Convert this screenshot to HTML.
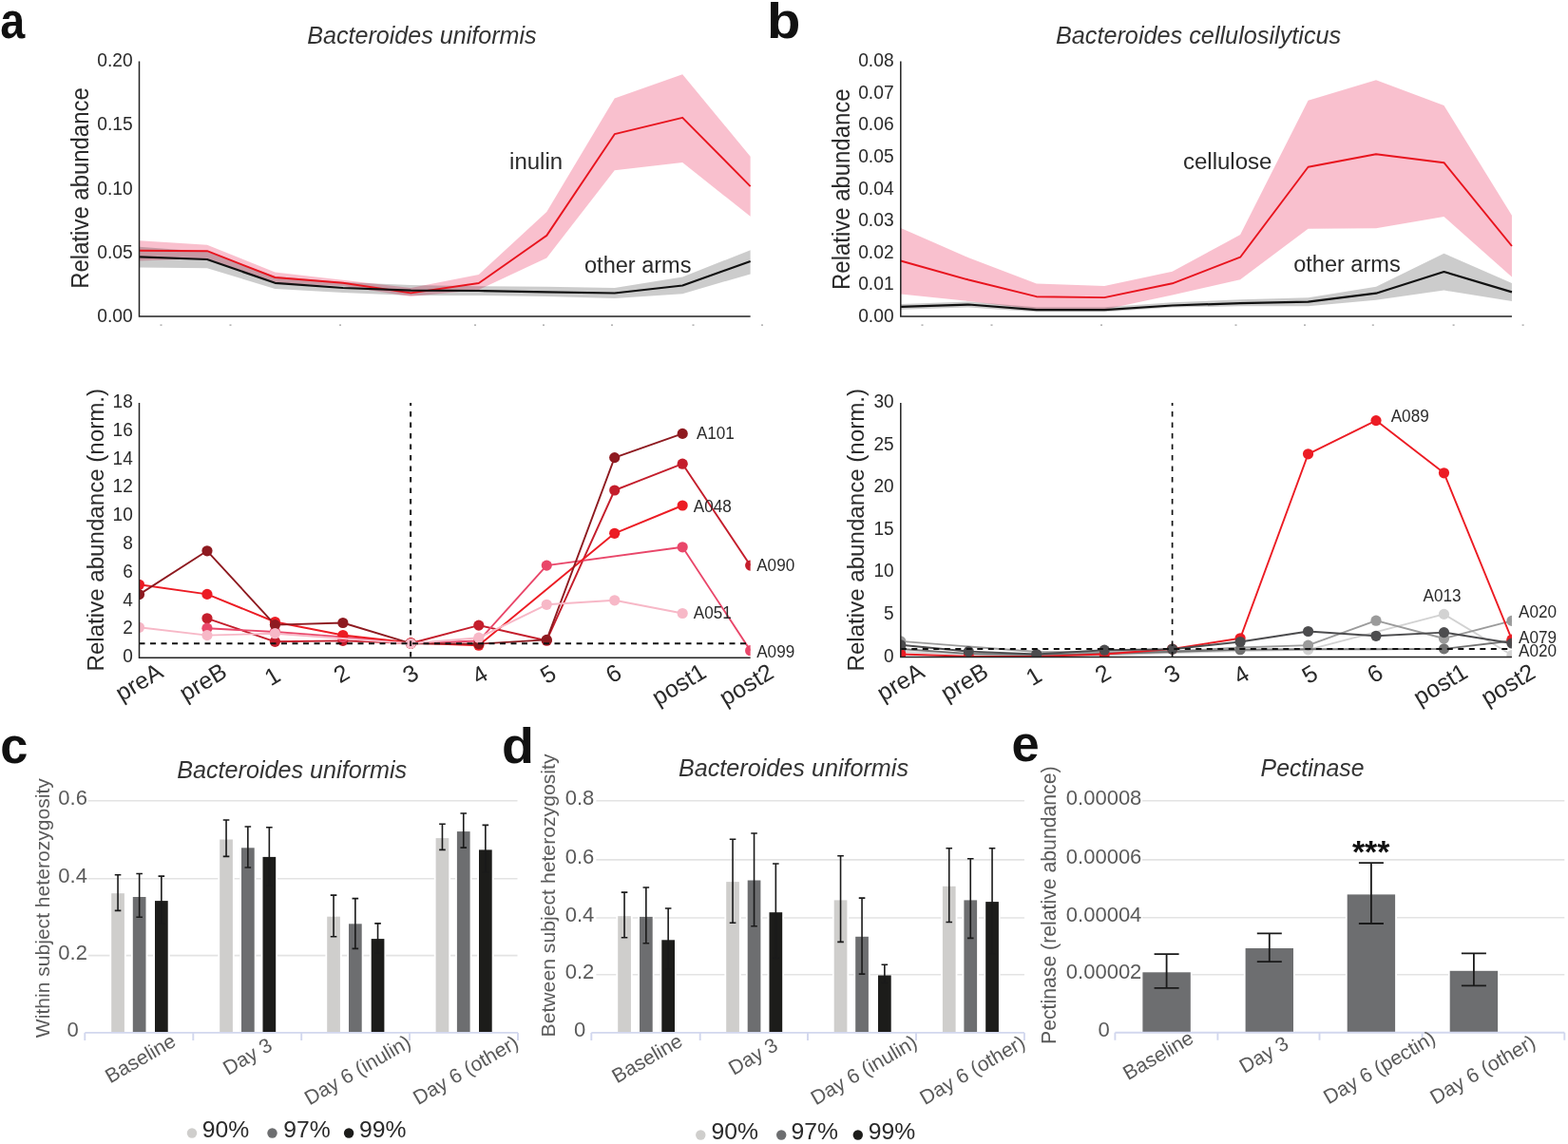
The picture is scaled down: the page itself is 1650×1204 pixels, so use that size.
<!DOCTYPE html>
<html><head><meta charset="utf-8"><title>Figure</title>
<style>
html,body{margin:0;padding:0;background:#fff;}
svg{display:block;}
text{font-family:'Liberation Sans', Arial, sans-serif;}
</style></head>
<body>
<svg width="1650" height="1204" viewBox="0 0 1650 1204" fill="#2a2a2a">
<rect width="1650" height="1204" fill="#fff"/>
<text x="0.3" y="40" font-size="51" font-weight="bold" fill="#111" textLength="26" lengthAdjust="spacingAndGlyphs">a</text>
<text x="806.9" y="40" font-size="51" font-weight="bold" fill="#111" textLength="35.4" lengthAdjust="spacingAndGlyphs">b</text>
<text x="0.2" y="803.3" font-size="51" font-weight="bold" fill="#111" textLength="29.15" lengthAdjust="spacingAndGlyphs">c</text>
<text x="528" y="803.2" font-size="51" font-weight="bold" fill="#111" textLength="34" lengthAdjust="spacingAndGlyphs">d</text>
<text x="1064.6" y="800.6" font-size="51" font-weight="bold" fill="#111" textLength="29.15" lengthAdjust="spacingAndGlyphs">e</text>
<text x="323.2" y="46.4" font-size="25" font-style="italic" fill="#333" textLength="241.5" lengthAdjust="spacingAndGlyphs">Bacteroides uniformis</text>
<text x="1110.9" y="46.4" font-size="25" font-style="italic" fill="#333" textLength="300.3" lengthAdjust="spacingAndGlyphs">Bacteroides cellulosilyticus</text>
<polygon points="146.5,253.2 217.96,257.8 289.42,286.5 360.88,294.7 432.34,303 503.8,289 575.26,223 646.72,103.6 718.18,78.2 789.64,164.7 789.64,227.8 718.18,171 646.72,179.3 575.26,271.4 503.8,305 432.34,312 360.88,301 289.42,298 217.96,272 146.5,274.6" fill="#f06a8a" fill-opacity="0.42"/>
<polygon points="146.5,259.8 217.96,265 289.42,291 360.88,297 432.34,300 503.8,301.2 575.26,301.7 646.72,303 718.18,291.5 789.64,263.2 789.64,288.4 718.18,309.2 646.72,314 575.26,312 503.8,311 432.34,311 360.88,308 289.42,304 217.96,282.2 146.5,281.5" fill="#000" fill-opacity="0.2"/>
<polyline points="146.5,263.7 217.96,264.2 289.42,292 360.88,297.8 432.34,308.4 503.8,298 575.26,247.9 646.72,141.2 718.18,123.8 789.64,196.2" fill="none" stroke="#e8141e" stroke-width="1.9" stroke-linejoin="round"/>
<polyline points="146.5,270.4 217.96,273 289.42,297.8 360.88,303 432.34,305.6 503.8,306 575.26,307.3 646.72,308.5 718.18,300.5 789.64,275" fill="none" stroke="#111" stroke-width="2.2" stroke-linejoin="round"/>
<path d="M146.5 64.4V333H789.64" fill="none" stroke="#222" stroke-width="1.5"/>
<text x="139.7" y="70.2" font-size="20.5" text-anchor="end" textLength="37.4" lengthAdjust="spacingAndGlyphs">0.20</text>
<text x="139.7" y="137.35" font-size="20.5" text-anchor="end" textLength="37.4" lengthAdjust="spacingAndGlyphs">0.15</text>
<text x="139.7" y="204.5" font-size="20.5" text-anchor="end" textLength="37.4" lengthAdjust="spacingAndGlyphs">0.10</text>
<text x="139.7" y="271.65" font-size="20.5" text-anchor="end" textLength="37.4" lengthAdjust="spacingAndGlyphs">0.05</text>
<text x="139.7" y="338.8" font-size="20.5" text-anchor="end" textLength="37.4" lengthAdjust="spacingAndGlyphs">0.00</text>
<polygon points="947.8,240 1019.26,271.2 1090.72,298.5 1162.18,301 1233.64,285.8 1305.1,247.1 1376.56,105.8 1448.02,84.2 1519.48,110.9 1590.94,226.7 1590.94,291.6 1519.48,228 1448.02,240.2 1376.56,240.7 1305.1,294.2 1233.64,310.5 1162.18,325.7 1090.72,325.7 1019.26,317 947.8,309.6" fill="#f06a8a" fill-opacity="0.42"/>
<polygon points="947.8,319.9 1019.26,317.5 1090.72,323.3 1162.18,323.3 1233.64,318.2 1305.1,315.3 1376.56,313.2 1448.02,301.8 1519.48,266.7 1590.94,298 1590.94,317 1519.48,305.6 1448.02,315.8 1376.56,322.2 1305.1,322.2 1233.64,323.6 1162.18,328.3 1090.72,328.3 1019.26,323.5 947.8,325.7" fill="#000" fill-opacity="0.2"/>
<polyline points="947.8,274.5 1019.26,294.5 1090.72,312.2 1162.18,313.1 1233.64,298.3 1305.1,270.7 1376.56,175.8 1448.02,162.3 1519.48,171.2 1590.94,259" fill="none" stroke="#e8141e" stroke-width="1.9" stroke-linejoin="round"/>
<polyline points="947.8,322.8 1019.26,320.5 1090.72,326.1 1162.18,326.1 1233.64,321.5 1305.1,319.1 1376.56,317.6 1448.02,308.7 1519.48,286 1590.94,307.4" fill="none" stroke="#111" stroke-width="2.2" stroke-linejoin="round"/>
<path d="M947.8 64.4V333H1590.94" fill="none" stroke="#222" stroke-width="1.5"/>
<text x="940.6" y="70.2" font-size="20.5" text-anchor="end" textLength="37.4" lengthAdjust="spacingAndGlyphs">0.08</text>
<text x="940.6" y="103.78" font-size="20.5" text-anchor="end" textLength="37.4" lengthAdjust="spacingAndGlyphs">0.07</text>
<text x="940.6" y="137.35" font-size="20.5" text-anchor="end" textLength="37.4" lengthAdjust="spacingAndGlyphs">0.06</text>
<text x="940.6" y="170.93" font-size="20.5" text-anchor="end" textLength="37.4" lengthAdjust="spacingAndGlyphs">0.05</text>
<text x="940.6" y="204.5" font-size="20.5" text-anchor="end" textLength="37.4" lengthAdjust="spacingAndGlyphs">0.04</text>
<text x="940.6" y="238.08" font-size="20.5" text-anchor="end" textLength="37.4" lengthAdjust="spacingAndGlyphs">0.03</text>
<text x="940.6" y="271.65" font-size="20.5" text-anchor="end" textLength="37.4" lengthAdjust="spacingAndGlyphs">0.02</text>
<text x="940.6" y="305.23" font-size="20.5" text-anchor="end" textLength="37.4" lengthAdjust="spacingAndGlyphs">0.01</text>
<text x="940.6" y="338.8" font-size="20.5" text-anchor="end" textLength="37.4" lengthAdjust="spacingAndGlyphs">0.00</text>
<text transform="translate(92.6 198) rotate(-90)" x="0" y="0" font-size="25.5" text-anchor="middle" fill="#2a2a2a" textLength="211.5" lengthAdjust="spacingAndGlyphs">Relative abundance</text>
<text transform="translate(894.2 199.2) rotate(-90)" x="0" y="0" font-size="25.5" text-anchor="middle" fill="#2a2a2a" textLength="211.5" lengthAdjust="spacingAndGlyphs">Relative abundance</text>
<text transform="translate(108.8 557.75) rotate(-90)" x="0" y="0" font-size="24.2" text-anchor="middle" fill="#2a2a2a" textLength="297.5" lengthAdjust="spacingAndGlyphs">Relative abundance (norm.)</text>
<text transform="translate(909 557.75) rotate(-90)" x="0" y="0" font-size="24.2" text-anchor="middle" fill="#2a2a2a" textLength="297.5" lengthAdjust="spacingAndGlyphs">Relative abundance (norm.)</text>
<text x="536.1" y="178.3" font-size="23.5" textLength="56" lengthAdjust="spacingAndGlyphs">inulin</text>
<text x="615" y="286.7" font-size="23.5" textLength="112.5" lengthAdjust="spacingAndGlyphs">other arms</text>
<text x="1244.9" y="177.8" font-size="23.5" textLength="93.6" lengthAdjust="spacingAndGlyphs">cellulose</text>
<text x="1361.2" y="286" font-size="23.5" textLength="112.5" lengthAdjust="spacingAndGlyphs">other arms</text>
<rect x="168.5" y="341.5" width="2" height="1.2" fill="#999"/>
<rect x="241.5" y="341.5" width="2" height="1.2" fill="#999"/>
<rect x="357" y="341.5" width="2" height="1.2" fill="#999"/>
<rect x="499" y="341.5" width="2" height="1.2" fill="#999"/>
<rect x="571" y="341.5" width="2" height="1.2" fill="#999"/>
<rect x="643" y="341.5" width="2" height="1.2" fill="#999"/>
<rect x="728.5" y="341.5" width="2" height="1.2" fill="#999"/>
<rect x="801" y="341.5" width="2" height="1.2" fill="#999"/>
<rect x="969.5" y="341.5" width="2" height="1.2" fill="#999"/>
<rect x="1042.5" y="341.5" width="2" height="1.2" fill="#999"/>
<rect x="1158" y="341.5" width="2" height="1.2" fill="#999"/>
<rect x="1299.5" y="341.5" width="2" height="1.2" fill="#999"/>
<rect x="1372" y="341.5" width="2" height="1.2" fill="#999"/>
<rect x="1443.8" y="341.5" width="2" height="1.2" fill="#999"/>
<rect x="1528.6" y="341.5" width="2" height="1.2" fill="#999"/>
<rect x="1601.6" y="341.5" width="2" height="1.2" fill="#999"/>
<defs><clipPath id="ca"><rect x="146.5" y="400" width="643.14" height="292.2"/></clipPath><clipPath id="cb"><rect x="947.8" y="400" width="643.14" height="291.6"/></clipPath></defs>
<g clip-path="url(#ca)"><polyline points="217.96,650.8 289.42,675.3 360.88,674.4 432.34,677 503.8,658.1 575.26,674.2 646.72,516 718.18,488.2 789.64,595.1" fill="none" stroke="#c41e2c" stroke-width="1.9" stroke-linejoin="round"/>
<circle cx="217.96" cy="650.8" r="5.6" fill="#c41e2c"/>
<circle cx="289.42" cy="675.3" r="5.6" fill="#c41e2c"/>
<circle cx="360.88" cy="674.4" r="5.6" fill="#c41e2c"/>
<circle cx="432.34" cy="677" r="5.6" fill="#c41e2c"/>
<circle cx="503.8" cy="658.1" r="5.6" fill="#c41e2c"/>
<circle cx="575.26" cy="674.2" r="5.6" fill="#c41e2c"/>
<circle cx="646.72" cy="516" r="5.6" fill="#c41e2c"/>
<circle cx="718.18" cy="488.2" r="5.6" fill="#c41e2c"/>
<circle cx="789.64" cy="595.1" r="5.6" fill="#c41e2c"/>
</g>
<g clip-path="url(#ca)"><polyline points="217.96,661.2 289.42,665 360.88,670.5 432.34,677 503.8,674.5 575.26,595.1 718.18,575.8 789.64,684.7" fill="none" stroke="#e9476a" stroke-width="1.9" stroke-linejoin="round"/>
<circle cx="217.96" cy="661.2" r="5.6" fill="#e9476a"/>
<circle cx="289.42" cy="665" r="5.6" fill="#e9476a"/>
<circle cx="360.88" cy="670.5" r="5.6" fill="#e9476a"/>
<circle cx="432.34" cy="677" r="5.6" fill="#e9476a"/>
<circle cx="503.8" cy="674.5" r="5.6" fill="#e9476a"/>
<circle cx="575.26" cy="595.1" r="5.6" fill="#e9476a"/>
<circle cx="718.18" cy="575.8" r="5.6" fill="#e9476a"/>
<circle cx="789.64" cy="684.7" r="5.6" fill="#e9476a"/>
</g>
<g clip-path="url(#ca)"><polyline points="146.5,615.3 217.96,625.4 289.42,654.5 360.88,668.5 432.34,676.5 503.8,679.2 646.72,561.3 718.18,532" fill="none" stroke="#ec1c24" stroke-width="1.9" stroke-linejoin="round"/>
<circle cx="146.5" cy="615.3" r="5.6" fill="#ec1c24"/>
<circle cx="217.96" cy="625.4" r="5.6" fill="#ec1c24"/>
<circle cx="289.42" cy="654.5" r="5.6" fill="#ec1c24"/>
<circle cx="360.88" cy="668.5" r="5.6" fill="#ec1c24"/>
<circle cx="432.34" cy="676.5" r="5.6" fill="#ec1c24"/>
<circle cx="503.8" cy="679.2" r="5.6" fill="#ec1c24"/>
<circle cx="646.72" cy="561.3" r="5.6" fill="#ec1c24"/>
<circle cx="718.18" cy="532" r="5.6" fill="#ec1c24"/>
</g>
<g clip-path="url(#ca)"><polyline points="146.5,625.6 217.96,579.8 289.42,657.6 360.88,655.5 432.34,677.2 503.8,677.6 575.26,673.4 646.72,481.6 718.18,456.4" fill="none" stroke="#8e1a20" stroke-width="1.9" stroke-linejoin="round"/>
<circle cx="146.5" cy="625.6" r="5.6" fill="#8e1a20"/>
<circle cx="217.96" cy="579.8" r="5.6" fill="#8e1a20"/>
<circle cx="289.42" cy="657.6" r="5.6" fill="#8e1a20"/>
<circle cx="360.88" cy="655.5" r="5.6" fill="#8e1a20"/>
<circle cx="432.34" cy="677.2" r="5.6" fill="#8e1a20"/>
<circle cx="503.8" cy="677.6" r="5.6" fill="#8e1a20"/>
<circle cx="575.26" cy="673.4" r="5.6" fill="#8e1a20"/>
<circle cx="646.72" cy="481.6" r="5.6" fill="#8e1a20"/>
<circle cx="718.18" cy="456.4" r="5.6" fill="#8e1a20"/>
</g>
<g clip-path="url(#ca)"><polyline points="146.5,660.3 217.96,668.6 289.42,666.7 360.88,672 432.34,677.3 503.8,671.2 575.26,636.3 646.72,631.8 718.18,645.5" fill="none" stroke="#f7b8c7" stroke-width="1.9" stroke-linejoin="round"/>
<circle cx="146.5" cy="660.3" r="5.6" fill="#f7b8c7"/>
<circle cx="217.96" cy="668.6" r="5.6" fill="#f7b8c7"/>
<circle cx="289.42" cy="666.7" r="5.6" fill="#f7b8c7"/>
<circle cx="432.34" cy="677.3" r="5.6" fill="#f7b8c7"/>
<circle cx="503.8" cy="671.2" r="5.6" fill="#f7b8c7"/>
<circle cx="575.26" cy="636.3" r="5.6" fill="#f7b8c7"/>
<circle cx="646.72" cy="631.8" r="5.6" fill="#f7b8c7"/>
<circle cx="718.18" cy="645.5" r="5.6" fill="#f7b8c7"/>
</g>
<line x1="146.5" y1="677.2" x2="787" y2="677.2" stroke="#111" stroke-width="2" stroke-dasharray="6,5.5"/>
<line x1="432.1" y1="424" x2="432.1" y2="692" stroke="#111" stroke-width="2" stroke-dasharray="5.6,5.9" stroke-dashoffset="2.6"/>
<path d="M146.5 424V692.2H789.64" fill="none" stroke="#222" stroke-width="1.5"/>
<text x="139.8" y="697.2" font-size="20.5" text-anchor="end" textLength="10.6" lengthAdjust="spacingAndGlyphs">0</text>
<text x="139.8" y="667.4" font-size="20.5" text-anchor="end" textLength="10.6" lengthAdjust="spacingAndGlyphs">2</text>
<text x="139.8" y="637.6" font-size="20.5" text-anchor="end" textLength="10.6" lengthAdjust="spacingAndGlyphs">4</text>
<text x="139.8" y="607.8" font-size="20.5" text-anchor="end" textLength="10.6" lengthAdjust="spacingAndGlyphs">6</text>
<text x="139.8" y="578" font-size="20.5" text-anchor="end" textLength="10.6" lengthAdjust="spacingAndGlyphs">8</text>
<text x="139.8" y="548.2" font-size="20.5" text-anchor="end" textLength="21.2" lengthAdjust="spacingAndGlyphs">10</text>
<text x="139.8" y="518.4" font-size="20.5" text-anchor="end" textLength="21.2" lengthAdjust="spacingAndGlyphs">12</text>
<text x="139.8" y="488.6" font-size="20.5" text-anchor="end" textLength="21.2" lengthAdjust="spacingAndGlyphs">14</text>
<text x="139.8" y="458.8" font-size="20.5" text-anchor="end" textLength="21.2" lengthAdjust="spacingAndGlyphs">16</text>
<text x="139.8" y="429" font-size="20.5" text-anchor="end" textLength="21.2" lengthAdjust="spacingAndGlyphs">18</text>
<text x="732.9" y="461.9" font-size="18" textLength="40" lengthAdjust="spacingAndGlyphs">A101</text>
<text x="729.8" y="539.3" font-size="18" textLength="40" lengthAdjust="spacingAndGlyphs">A048</text>
<text x="796.2" y="601.2" font-size="18" textLength="40" lengthAdjust="spacingAndGlyphs">A090</text>
<text x="729.8" y="651.3" font-size="18" textLength="40" lengthAdjust="spacingAndGlyphs">A051</text>
<text x="796.2" y="692" font-size="18" textLength="40" lengthAdjust="spacingAndGlyphs">A099</text>
<g clip-path="url(#cb)"><polyline points="947.8,686 1019.26,688.5 1090.72,690.2 1162.18,689.5 1233.64,687 1305.1,685 1376.56,683.9 1519.48,646.4 1590.94,689.5" fill="none" stroke="#d2d2d2" stroke-width="1.9" stroke-linejoin="round"/>
<circle cx="1376.56" cy="683.9" r="5.6" fill="#d2d2d2"/>
<circle cx="1519.48" cy="646.4" r="5.6" fill="#d2d2d2"/>
<circle cx="1590.94" cy="689.5" r="5.6" fill="#d2d2d2"/>
</g>
<g clip-path="url(#cb)"><polyline points="947.8,674.9 1019.26,680.5 1090.72,686 1162.18,686.5 1233.64,685.5 1305.1,681.5 1376.56,679.1 1448.02,653.2 1519.48,672 1590.94,653.4" fill="none" stroke="#9b9b9b" stroke-width="1.9" stroke-linejoin="round"/>
<circle cx="947.8" cy="674.9" r="5.6" fill="#9b9b9b"/>
<circle cx="1376.56" cy="679.1" r="5.6" fill="#9b9b9b"/>
<circle cx="1448.02" cy="653.2" r="5.6" fill="#9b9b9b"/>
<circle cx="1519.48" cy="672" r="5.6" fill="#9b9b9b"/>
<circle cx="1590.94" cy="653.4" r="5.6" fill="#9b9b9b"/>
</g>
<g clip-path="url(#cb)"><polyline points="947.8,683 1019.26,688 1090.72,689 1162.18,688 1233.64,686 1305.1,683.7 1376.56,683.3 1448.02,683.2 1519.48,682.9 1590.94,674.5" fill="none" stroke="#727272" stroke-width="1.9" stroke-linejoin="round"/>
<circle cx="947.8" cy="683" r="5.6" fill="#727272"/>
<circle cx="1305.1" cy="683.7" r="5.6" fill="#727272"/>
<circle cx="1519.48" cy="682.9" r="5.6" fill="#727272"/>
<circle cx="1590.94" cy="674.5" r="5.6" fill="#727272"/>
</g>
<g clip-path="url(#cb)"><polyline points="947.8,688.5 1019.26,690.8 1090.72,691 1162.18,688.5 1233.64,683 1305.1,671.8 1376.56,477.8 1448.02,442.6 1519.48,497.8 1590.94,673.2" fill="none" stroke="#ec1c24" stroke-width="1.9" stroke-linejoin="round"/>
<circle cx="947.8" cy="688.5" r="5.6" fill="#ec1c24"/>
<circle cx="1019.26" cy="690.8" r="5.6" fill="#ec1c24"/>
<circle cx="1090.72" cy="691" r="5.6" fill="#ec1c24"/>
<circle cx="1162.18" cy="688.5" r="5.6" fill="#ec1c24"/>
<circle cx="1233.64" cy="683" r="5.6" fill="#ec1c24"/>
<circle cx="1305.1" cy="671.8" r="5.6" fill="#ec1c24"/>
<circle cx="1376.56" cy="477.8" r="5.6" fill="#ec1c24"/>
<circle cx="1448.02" cy="442.6" r="5.6" fill="#ec1c24"/>
<circle cx="1519.48" cy="497.8" r="5.6" fill="#ec1c24"/>
<circle cx="1590.94" cy="673.2" r="5.6" fill="#ec1c24"/>
</g>
<g clip-path="url(#cb)"><polyline points="947.8,678.8 1019.26,685.6 1090.72,688.5 1162.18,684.2 1233.64,683.2 1305.1,675.5 1376.56,664.5 1448.02,669.3 1519.48,665.6 1590.94,677" fill="none" stroke="#4c4c4e" stroke-width="1.9" stroke-linejoin="round"/>
<circle cx="947.8" cy="678.8" r="5.6" fill="#4c4c4e"/>
<circle cx="1019.26" cy="685.6" r="5.6" fill="#4c4c4e"/>
<circle cx="1090.72" cy="688.5" r="5.6" fill="#4c4c4e"/>
<circle cx="1162.18" cy="684.2" r="5.6" fill="#4c4c4e"/>
<circle cx="1233.64" cy="683.2" r="5.6" fill="#4c4c4e"/>
<circle cx="1305.1" cy="675.5" r="5.6" fill="#4c4c4e"/>
<circle cx="1376.56" cy="664.5" r="5.6" fill="#4c4c4e"/>
<circle cx="1448.02" cy="669.3" r="5.6" fill="#4c4c4e"/>
<circle cx="1519.48" cy="665.6" r="5.6" fill="#4c4c4e"/>
<circle cx="1590.94" cy="677" r="5.6" fill="#4c4c4e"/>
</g>
<line x1="947.8" y1="683" x2="1588" y2="683" stroke="#111" stroke-width="2" stroke-dasharray="6,5.5"/>
<line x1="1233.6" y1="424" x2="1233.6" y2="691.5" stroke="#111" stroke-width="1.7" stroke-dasharray="5.6,5.9" stroke-dashoffset="2.6"/>
<path d="M947.8 424V691.6H1590.94" fill="none" stroke="#222" stroke-width="1.5"/>
<text x="940.6" y="696.6" font-size="20.5" text-anchor="end" textLength="10.6" lengthAdjust="spacingAndGlyphs">0</text>
<text x="940.6" y="652" font-size="20.5" text-anchor="end" textLength="10.6" lengthAdjust="spacingAndGlyphs">5</text>
<text x="940.6" y="607.4" font-size="20.5" text-anchor="end" textLength="21.2" lengthAdjust="spacingAndGlyphs">10</text>
<text x="940.6" y="562.8" font-size="20.5" text-anchor="end" textLength="21.2" lengthAdjust="spacingAndGlyphs">15</text>
<text x="940.6" y="518.2" font-size="20.5" text-anchor="end" textLength="21.2" lengthAdjust="spacingAndGlyphs">20</text>
<text x="940.6" y="473.6" font-size="20.5" text-anchor="end" textLength="21.2" lengthAdjust="spacingAndGlyphs">25</text>
<text x="940.6" y="429" font-size="20.5" text-anchor="end" textLength="21.2" lengthAdjust="spacingAndGlyphs">30</text>
<text x="1463.7" y="443.9" font-size="18" textLength="40" lengthAdjust="spacingAndGlyphs">A089</text>
<text x="1497.6" y="632.8" font-size="18" textLength="40" lengthAdjust="spacingAndGlyphs">A013</text>
<text x="1598" y="650" font-size="18" textLength="40" lengthAdjust="spacingAndGlyphs">A020</text>
<text x="1598" y="676.9" font-size="18" textLength="40" lengthAdjust="spacingAndGlyphs">A079</text>
<text x="1598" y="691" font-size="18" textLength="40" lengthAdjust="spacingAndGlyphs">A020</text>
<line x1="92.8" y1="842.8" x2="544.5" y2="842.8" stroke="#e3e3e3" stroke-width="1.6"/>
<line x1="92.8" y1="924.7" x2="544.5" y2="924.7" stroke="#e3e3e3" stroke-width="1.6"/>
<line x1="92.8" y1="1005.6" x2="544.5" y2="1005.6" stroke="#e3e3e3" stroke-width="1.6"/>
<text x="76.6" y="846.8" font-size="22" text-anchor="middle" fill="#5a5a5a">0.6</text>
<text x="76.6" y="928.7" font-size="22" text-anchor="middle" fill="#5a5a5a">0.4</text>
<text x="76.6" y="1009.6" font-size="22" text-anchor="middle" fill="#5a5a5a">0.2</text>
<text x="76.6" y="1090.7" font-size="22" text-anchor="middle" fill="#5a5a5a">0</text>
<rect x="115.4" y="940.2" width="17.3" height="146.5" fill="#fff"/>
<rect x="138" y="944" width="17.3" height="142.7" fill="#fff"/>
<rect x="161.2" y="948.1" width="17.3" height="138.6" fill="#fff"/>
<rect x="229.4" y="883.5" width="17.3" height="203.2" fill="#fff"/>
<rect x="252.2" y="892.3" width="17.3" height="194.4" fill="#fff"/>
<rect x="274.7" y="901.9" width="17.3" height="184.8" fill="#fff"/>
<rect x="342.4" y="964.7" width="17.3" height="122" fill="#fff"/>
<rect x="365.2" y="972.3" width="17.3" height="114.4" fill="#fff"/>
<rect x="388.9" y="988.1" width="17.3" height="98.6" fill="#fff"/>
<rect x="456.8" y="882.1" width="17.3" height="204.6" fill="#fff"/>
<rect x="479.1" y="875.1" width="17.3" height="211.6" fill="#fff"/>
<rect x="502.2" y="894.4" width="17.3" height="192.3" fill="#fff"/>
<rect x="117.2" y="940.2" width="13.7" height="146.5" fill="#cfcecc"/>
<rect x="139.8" y="944" width="13.7" height="142.7" fill="#6d6e70"/>
<rect x="163" y="948.1" width="13.7" height="138.6" fill="#1c1c1a"/>
<rect x="231.2" y="883.5" width="13.7" height="203.2" fill="#cfcecc"/>
<rect x="254" y="892.3" width="13.7" height="194.4" fill="#6d6e70"/>
<rect x="276.5" y="901.9" width="13.7" height="184.8" fill="#1c1c1a"/>
<rect x="344.2" y="964.7" width="13.7" height="122" fill="#cfcecc"/>
<rect x="367" y="972.3" width="13.7" height="114.4" fill="#6d6e70"/>
<rect x="390.7" y="988.1" width="13.7" height="98.6" fill="#1c1c1a"/>
<rect x="458.6" y="882.1" width="13.7" height="204.6" fill="#cfcecc"/>
<rect x="480.9" y="875.1" width="13.7" height="211.6" fill="#6d6e70"/>
<rect x="504" y="894.4" width="13.7" height="192.3" fill="#1c1c1a"/>
<path d="M124.05 920.7V958.4M120.75 920.7H127.35M120.75 958.4H127.35" stroke="#1a1a1a" stroke-width="1.6" fill="none"/>
<path d="M146.65 919.5V965.3M143.35 919.5H149.95M143.35 965.3H149.95" stroke="#1a1a1a" stroke-width="1.6" fill="none"/>
<path d="M169.85 922.1V972.3M166.55 922.1H173.15M166.55 972.3H173.15" stroke="#1a1a1a" stroke-width="1.6" fill="none"/>
<path d="M238.05 863V901.4M234.75 863H241.35M234.75 901.4H241.35" stroke="#1a1a1a" stroke-width="1.6" fill="none"/>
<path d="M260.85 870V913M257.55 870H264.15M257.55 913H264.15" stroke="#1a1a1a" stroke-width="1.6" fill="none"/>
<path d="M283.35 870.7V932.3M280.05 870.7H286.65M280.05 932.3H286.65" stroke="#1a1a1a" stroke-width="1.6" fill="none"/>
<path d="M351.05 942.1V985.8M347.75 942.1H354.35M347.75 985.8H354.35" stroke="#1a1a1a" stroke-width="1.6" fill="none"/>
<path d="M373.85 945.6V998.4M370.55 945.6H377.15M370.55 998.4H377.15" stroke="#1a1a1a" stroke-width="1.6" fill="none"/>
<path d="M397.55 971.9V1003.3M394.25 971.9H400.85M394.25 1003.3H400.85" stroke="#1a1a1a" stroke-width="1.6" fill="none"/>
<path d="M465.45 867.2V894.4M462.15 867.2H468.75M462.15 894.4H468.75" stroke="#1a1a1a" stroke-width="1.6" fill="none"/>
<path d="M487.75 856V892.1M484.45 856H491.05M484.45 892.1H491.05" stroke="#1a1a1a" stroke-width="1.6" fill="none"/>
<path d="M510.85 868.4V918.1M507.55 868.4H514.15M507.55 918.1H514.15" stroke="#1a1a1a" stroke-width="1.6" fill="none"/>
<path d="M89.3 1086.9H545M89.3 1086.9V1094.9M203.3 1086.9V1094.9M317.2 1086.9V1094.9M431 1086.9V1094.9M545 1086.9V1094.9" stroke="#d2d7ee" stroke-width="1.9" fill="none"/>
<text x="186.2" y="818.8" font-size="25" font-style="italic" fill="#333" textLength="242" lengthAdjust="spacingAndGlyphs">Bacteroides uniformis</text>
<line x1="627.4" y1="842.8" x2="1077.9" y2="842.8" stroke="#e3e3e3" stroke-width="1.6"/>
<line x1="627.4" y1="904.9" x2="1077.9" y2="904.9" stroke="#e3e3e3" stroke-width="1.6"/>
<line x1="627.4" y1="966" x2="1077.9" y2="966" stroke="#e3e3e3" stroke-width="1.6"/>
<line x1="627.4" y1="1025.8" x2="1077.9" y2="1025.8" stroke="#e3e3e3" stroke-width="1.6"/>
<text x="610" y="846.8" font-size="22" text-anchor="middle" fill="#5a5a5a">0.8</text>
<text x="610" y="908.9" font-size="22" text-anchor="middle" fill="#5a5a5a">0.6</text>
<text x="610" y="970" font-size="22" text-anchor="middle" fill="#5a5a5a">0.4</text>
<text x="610" y="1029.8" font-size="22" text-anchor="middle" fill="#5a5a5a">0.2</text>
<text x="610" y="1090.7" font-size="22" text-anchor="middle" fill="#5a5a5a">0</text>
<rect x="648.4" y="964.2" width="17.3" height="122.5" fill="#fff"/>
<rect x="671.2" y="964.9" width="17.3" height="121.8" fill="#fff"/>
<rect x="694.5" y="989.3" width="17.3" height="97.4" fill="#fff"/>
<rect x="762.4" y="928.1" width="17.3" height="158.6" fill="#fff"/>
<rect x="784.9" y="926.5" width="17.3" height="160.2" fill="#fff"/>
<rect x="807.7" y="960.2" width="17.3" height="126.5" fill="#fff"/>
<rect x="875.9" y="947.4" width="17.3" height="139.3" fill="#fff"/>
<rect x="898.4" y="985.8" width="17.3" height="100.9" fill="#fff"/>
<rect x="922.2" y="1026.5" width="17.3" height="60.2" fill="#fff"/>
<rect x="990.1" y="932.8" width="17.3" height="153.9" fill="#fff"/>
<rect x="1012.6" y="947.4" width="17.3" height="139.3" fill="#fff"/>
<rect x="1035.4" y="949.1" width="17.3" height="137.6" fill="#fff"/>
<rect x="650.2" y="964.2" width="13.7" height="122.5" fill="#cfcecc"/>
<rect x="673" y="964.9" width="13.7" height="121.8" fill="#6d6e70"/>
<rect x="696.3" y="989.3" width="13.7" height="97.4" fill="#1c1c1a"/>
<rect x="764.2" y="928.1" width="13.7" height="158.6" fill="#cfcecc"/>
<rect x="786.7" y="926.5" width="13.7" height="160.2" fill="#6d6e70"/>
<rect x="809.5" y="960.2" width="13.7" height="126.5" fill="#1c1c1a"/>
<rect x="877.7" y="947.4" width="13.7" height="139.3" fill="#cfcecc"/>
<rect x="900.2" y="985.8" width="13.7" height="100.9" fill="#6d6e70"/>
<rect x="924" y="1026.5" width="13.7" height="60.2" fill="#1c1c1a"/>
<rect x="991.9" y="932.8" width="13.7" height="153.9" fill="#cfcecc"/>
<rect x="1014.4" y="947.4" width="13.7" height="139.3" fill="#6d6e70"/>
<rect x="1037.2" y="949.1" width="13.7" height="137.6" fill="#1c1c1a"/>
<path d="M657.05 939.1V986.7M653.75 939.1H660.35M653.75 986.7H660.35" stroke="#1a1a1a" stroke-width="1.6" fill="none"/>
<path d="M679.85 934V992.8M676.55 934H683.15M676.55 992.8H683.15" stroke="#1a1a1a" stroke-width="1.6" fill="none"/>
<path d="M703.15 956V1020M699.85 956H706.45M699.85 1020H706.45" stroke="#1a1a1a" stroke-width="1.6" fill="none"/>
<path d="M771.05 883.3V971.2M767.75 883.3H774.35M767.75 971.2H774.35" stroke="#1a1a1a" stroke-width="1.6" fill="none"/>
<path d="M793.55 877V974.7M790.25 877H796.85M790.25 974.7H796.85" stroke="#1a1a1a" stroke-width="1.6" fill="none"/>
<path d="M816.35 909V1008.4M813.05 909H819.65M813.05 1008.4H819.65" stroke="#1a1a1a" stroke-width="1.6" fill="none"/>
<path d="M884.55 900.7V991.4M881.25 900.7H887.85M881.25 991.4H887.85" stroke="#1a1a1a" stroke-width="1.6" fill="none"/>
<path d="M907.05 945.1V1025.1M903.75 945.1H910.35M903.75 1025.1H910.35" stroke="#1a1a1a" stroke-width="1.6" fill="none"/>
<path d="M930.85 1015.3V1034.4M927.55 1015.3H934.15M927.55 1034.4H934.15" stroke="#1a1a1a" stroke-width="1.6" fill="none"/>
<path d="M998.75 892.8V970.5M995.45 892.8H1002.05M995.45 970.5H1002.05" stroke="#1a1a1a" stroke-width="1.6" fill="none"/>
<path d="M1021.25 903.7V987.4M1017.95 903.7H1024.55M1017.95 987.4H1024.55" stroke="#1a1a1a" stroke-width="1.6" fill="none"/>
<path d="M1044.05 892.8V1003.7M1040.75 892.8H1047.35M1040.75 1003.7H1047.35" stroke="#1a1a1a" stroke-width="1.6" fill="none"/>
<path d="M622.3 1086.9H1077.9M622.3 1086.9V1094.9M736.7 1086.9V1094.9M850 1086.9V1094.9M964 1086.9V1094.9M1077.9 1086.9V1094.9" stroke="#d2d7ee" stroke-width="1.9" fill="none"/>
<text x="714" y="817.2" font-size="25" font-style="italic" fill="#333" textLength="242" lengthAdjust="spacingAndGlyphs">Bacteroides uniformis</text>
<line x1="1202.1" y1="842.8" x2="1646.3" y2="842.8" stroke="#e3e3e3" stroke-width="1.6"/>
<line x1="1202.1" y1="904.9" x2="1646.3" y2="904.9" stroke="#e3e3e3" stroke-width="1.6"/>
<line x1="1202.1" y1="965.8" x2="1646.3" y2="965.8" stroke="#e3e3e3" stroke-width="1.6"/>
<line x1="1202.1" y1="1025.8" x2="1646.3" y2="1025.8" stroke="#e3e3e3" stroke-width="1.6"/>
<text x="1161.6" y="846.8" font-size="22" text-anchor="middle" fill="#5a5a5a">0.00008</text>
<text x="1161.6" y="908.9" font-size="22" text-anchor="middle" fill="#5a5a5a">0.00006</text>
<text x="1161.6" y="969.8" font-size="22" text-anchor="middle" fill="#5a5a5a">0.00004</text>
<text x="1161.6" y="1029.8" font-size="22" text-anchor="middle" fill="#5a5a5a">0.00002</text>
<text x="1161.6" y="1090.7" font-size="22" text-anchor="middle" fill="#5a5a5a">0</text>
<rect x="1200.6" y="1023.3" width="54" height="63.4" fill="#fff"/>
<rect x="1308.8" y="998" width="54" height="88.7" fill="#fff"/>
<rect x="1415.9" y="941.4" width="54" height="145.3" fill="#fff"/>
<rect x="1523.9" y="1021.8" width="54" height="64.9" fill="#fff"/>
<rect x="1202.4" y="1023.3" width="50.4" height="63.4" fill="#6d6e70"/>
<rect x="1310.6" y="998" width="50.4" height="88.7" fill="#6d6e70"/>
<rect x="1417.7" y="941.4" width="50.4" height="145.3" fill="#6d6e70"/>
<rect x="1525.7" y="1021.8" width="50.4" height="64.9" fill="#6d6e70"/>
<path d="M1227.6 1004.2V1039.9M1214.6 1004.2H1240.6M1214.6 1039.9H1240.6" stroke="#1a1a1a" stroke-width="1.8" fill="none"/>
<path d="M1335.8 982.3V1012.1M1322.8 982.3H1348.8M1322.8 1012.1H1348.8" stroke="#1a1a1a" stroke-width="1.8" fill="none"/>
<path d="M1442.9 908.2V972M1429.9 908.2H1455.9M1429.9 972H1455.9" stroke="#1a1a1a" stroke-width="1.8" fill="none"/>
<path d="M1550.9 1003.4V1037.3M1537.9 1003.4H1563.9M1537.9 1037.3H1563.9" stroke="#1a1a1a" stroke-width="1.8" fill="none"/>
<path d="M1173.4 1086.7H1646.3M1173.4 1086.7V1094.7M1281.4 1086.7V1094.7M1388.5 1086.7V1094.7M1496.6 1086.7V1094.7M1646.3 1086.7V1094.7" stroke="#d2d7ee" stroke-width="1.9" fill="none"/>
<text x="1326.6" y="817.2" font-size="25" font-style="italic" fill="#333" textLength="109" lengthAdjust="spacingAndGlyphs">Pectinase</text>
<text x="1422.9" y="908" font-size="33" font-weight="bold" fill="#111" textLength="39.5" lengthAdjust="spacingAndGlyphs">***</text>
<text transform="translate(52.3 955.7) rotate(-90)" x="0" y="0" font-size="20.9" text-anchor="middle" fill="#5a5a5a" textLength="273" lengthAdjust="spacingAndGlyphs">Within subject heterozygosity</text>
<text transform="translate(583.8 942.5) rotate(-90)" x="0" y="0" font-size="21.1" text-anchor="middle" fill="#5a5a5a" textLength="298" lengthAdjust="spacingAndGlyphs">Between subject heterozygosity</text>
<text transform="translate(1110.9 952.7) rotate(-90)" x="0" y="0" font-size="21.2" text-anchor="middle" fill="#5a5a5a" textLength="292.5" lengthAdjust="spacingAndGlyphs">Pectinase (relative abundance)</text>
<circle cx="202" cy="1192.5" r="5.2" fill="#cfcecc"/>
<circle cx="286.5" cy="1192.5" r="5.2" fill="#6d6e70"/>
<circle cx="367.1" cy="1192.5" r="5.2" fill="#1c1c1a"/>
<text x="212.8" y="1196.8" font-size="24.5" textLength="49.5" lengthAdjust="spacingAndGlyphs">90%</text>
<text x="298.2" y="1196.8" font-size="24.5" textLength="49.5" lengthAdjust="spacingAndGlyphs">97%</text>
<text x="378" y="1196.8" font-size="24.5" textLength="49.5" lengthAdjust="spacingAndGlyphs">99%</text>
<circle cx="737.3" cy="1194.5" r="5.2" fill="#cfcecc"/>
<circle cx="822.2" cy="1194.5" r="5.2" fill="#6d6e70"/>
<circle cx="902.8" cy="1194.5" r="5.2" fill="#1c1c1a"/>
<text x="748.5" y="1199" font-size="24.5" textLength="49.5" lengthAdjust="spacingAndGlyphs">90%</text>
<text x="832.5" y="1199" font-size="24.5" textLength="49.5" lengthAdjust="spacingAndGlyphs">97%</text>
<text x="913.7" y="1199" font-size="24.5" textLength="49.5" lengthAdjust="spacingAndGlyphs">99%</text>
<text transform="translate(150.65 725.1) rotate(-31)" x="0" y="0" font-size="25" text-anchor="middle">preA</text>
<text transform="translate(951.95 725.1) rotate(-31)" x="0" y="0" font-size="25" text-anchor="middle">preA</text>
<text transform="translate(217.85 725.05) rotate(-31)" x="0" y="0" font-size="25" text-anchor="middle">preB</text>
<text transform="translate(1019.15 725.05) rotate(-31)" x="0" y="0" font-size="25" text-anchor="middle">preB</text>
<text transform="translate(290.85 718.85) rotate(-31)" x="0" y="0" font-size="25" text-anchor="middle">1</text>
<text transform="translate(1092.15 718.85) rotate(-31)" x="0" y="0" font-size="25" text-anchor="middle">1</text>
<text transform="translate(363.7 716.2) rotate(-31)" x="0" y="0" font-size="25" text-anchor="middle">2</text>
<text transform="translate(1165 716.2) rotate(-31)" x="0" y="0" font-size="25" text-anchor="middle">2</text>
<text transform="translate(436.35 716.4) rotate(-31)" x="0" y="0" font-size="25" text-anchor="middle">3</text>
<text transform="translate(1237.65 716.4) rotate(-31)" x="0" y="0" font-size="25" text-anchor="middle">3</text>
<text transform="translate(509.1 717.35) rotate(-31)" x="0" y="0" font-size="25" text-anchor="middle">4</text>
<text transform="translate(1310.4 717.35) rotate(-31)" x="0" y="0" font-size="25" text-anchor="middle">4</text>
<text transform="translate(581.3 717) rotate(-31)" x="0" y="0" font-size="25" text-anchor="middle">5</text>
<text transform="translate(1382.6 717) rotate(-31)" x="0" y="0" font-size="25" text-anchor="middle">5</text>
<text transform="translate(649.9 716.2) rotate(-31)" x="0" y="0" font-size="25" text-anchor="middle">6</text>
<text transform="translate(1451.2 716.2) rotate(-31)" x="0" y="0" font-size="25" text-anchor="middle">6</text>
<text transform="translate(718.7 727.5) rotate(-31)" x="0" y="0" font-size="25" text-anchor="middle">post1</text>
<text transform="translate(1520 727.5) rotate(-31)" x="0" y="0" font-size="25" text-anchor="middle">post1</text>
<text transform="translate(789.8 727.85) rotate(-31)" x="0" y="0" font-size="25" text-anchor="middle">post2</text>
<text transform="translate(1591.1 727.85) rotate(-31)" x="0" y="0" font-size="25" text-anchor="middle">post2</text>
<text transform="translate(151.25 1120.1) rotate(-30)" x="0" y="0" font-size="21.2" text-anchor="middle" fill="#5a5a5a">Baseline</text>
<text transform="translate(263.9 1118.05) rotate(-30)" x="0" y="0" font-size="21.2" text-anchor="middle" fill="#5a5a5a">Day 3</text>
<text transform="translate(379.75 1132.3) rotate(-30)" x="0" y="0" font-size="21.2" text-anchor="middle" fill="#5a5a5a">Day 6 (inulin)</text>
<text transform="translate(493.65 1132.3) rotate(-30)" x="0" y="0" font-size="21.2" text-anchor="middle" fill="#5a5a5a">Day 6 (other)</text>
<text transform="translate(684.5 1120.1) rotate(-30)" x="0" y="0" font-size="21.2" text-anchor="middle" fill="#5a5a5a">Baseline</text>
<text transform="translate(795.9 1118.05) rotate(-30)" x="0" y="0" font-size="21.2" text-anchor="middle" fill="#5a5a5a">Day 3</text>
<text transform="translate(912.55 1132.3) rotate(-30)" x="0" y="0" font-size="21.2" text-anchor="middle" fill="#5a5a5a">Day 6 (inulin)</text>
<text transform="translate(1026.8 1132.3) rotate(-30)" x="0" y="0" font-size="21.2" text-anchor="middle" fill="#5a5a5a">Day 6 (other)</text>
<text transform="translate(1222.3 1116.9) rotate(-30)" x="0" y="0" font-size="21.2" text-anchor="middle" fill="#5a5a5a">Baseline</text>
<text transform="translate(1333.55 1116.25) rotate(-30)" x="0" y="0" font-size="21.2" text-anchor="middle" fill="#5a5a5a">Day 3</text>
<text transform="translate(1455.05 1129.6) rotate(-30)" x="0" y="0" font-size="21.2" text-anchor="middle" fill="#5a5a5a">Day 6 (pectin)</text>
<text transform="translate(1563.9 1131.85) rotate(-30)" x="0" y="0" font-size="21.2" text-anchor="middle" fill="#5a5a5a">Day 6 (other)</text>
</svg>
</body></html>
